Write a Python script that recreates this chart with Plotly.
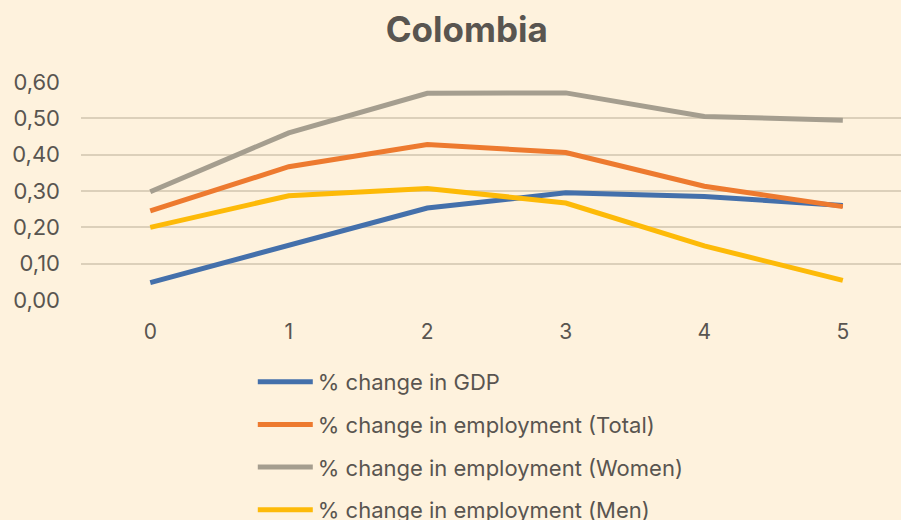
import plotly.graph_objects as go

x_vals = [0, 1, 2, 3, 4, 5]
gdp = [0.048, 0.150, 0.253, 0.295, 0.285, 0.260]
emp_total = [0.245, 0.367, 0.428, 0.406, 0.313, 0.257]
emp_women = [0.298, 0.460, 0.569, 0.570, 0.505, 0.495]
emp_men = [0.200, 0.287, 0.307, 0.267, 0.149, 0.054]

names = [
    "% change in GDP",
    "% change in employment (Total)",
    "% change in employment (Women)",
    "% change in employment (Men)",
]
colors = ["#4470AB", "#ED7A2F", "#A59E8F", "#FDBA08"]
series = [gdp, emp_total, emp_women, emp_men]

FONT = "Inter"
TXT = "#595550"
BG = "#FEF2DD"

fig = go.Figure()
for i, (nm, col, ys) in enumerate(zip(names, colors, series)):
    fig.add_trace(go.Scatter(
        x=x_vals, y=ys, name=nm, mode="lines",
        line=dict(color=col, width=5),
        legendgroup=f"g{i}",
    ))

fig.update_layout(
    width=901, height=520,
    paper_bgcolor=BG, plot_bgcolor=BG,
    margin=dict(l=81, r=0, t=82, b=220, autoexpand=False),
    separators=",.",
    title=dict(text="<b>Colombia</b>", x=0.518, xanchor="center", y=0.943, yanchor="middle",
               font=dict(family=FONT, size=35, color=TXT)),
    font=dict(family=FONT, size=21, color=TXT),
    xaxis=dict(range=[-0.5, 5.42], tickvals=x_vals, showgrid=False, zeroline=False,
               showline=False, ticks="", tickfont=dict(size=21, color=TXT), ticklabelstandoff=17),
    yaxis=dict(range=[0, 0.6], dtick=0.1, tickformat=".2f", showgrid=True,
               gridcolor="#DCD0BA", gridwidth=2, zeroline=False, showline=False,
               ticks="", tickfont=dict(size=22, color=TXT), ticklabelstandoff=20),
    legend=dict(orientation="v", x=0.2095, xanchor="left", y=-0.28, yanchor="top",
                font=dict(family=FONT, size=22, color=TXT), tracegroupgap=11,
                itemwidth=55, bgcolor="rgba(0,0,0,0)"),
    showlegend=True,
)

fig.write_html("out.html", config={"displayModeBar": False},
               post_script="document.body.style.margin='0px';")
